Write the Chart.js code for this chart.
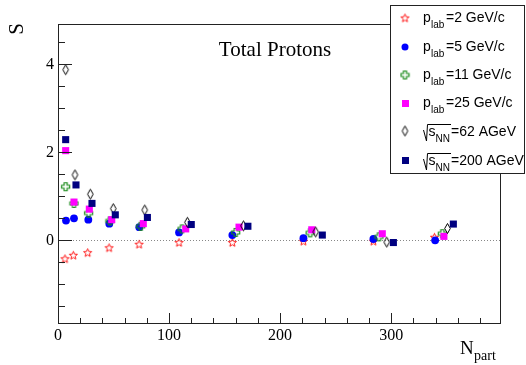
<!DOCTYPE html>
<html>
<head>
<meta charset="utf-8">
<script src="https://cdn.jsdelivr.net/npm/chart.js@4"></script>
<style>
html, body { margin: 0; padding: 0; background: #fff; }
</style>
</head>
<body>
<canvas id="chart" width="526" height="365"></canvas>
<script>
// N_part and S for each beam energy
const nPart2 = [6.3, 13.8, 26.7, 46, 73, 109, 157, 221, 284, 339];
const s2 = [-0.42, -0.34, -0.28, -0.17, -0.09, -0.05, -0.05, -0.02, -0.02, 0.07];
const nPart5 = [7.2, 14.4, 27.3, 46.2, 73.2, 109, 157, 221, 284, 339.6];
const s5 = [0.45, 0.50, 0.47, 0.38, 0.30, 0.18, 0.12, 0.05, 0.03, 0.00];
const nPart11 = [6.9, 14.4, 27.6, 46.8, 74.5, 111.7, 160, 227, 289, 346];
const s11 = [1.22, 0.84, 0.62, 0.44, 0.32, 0.26, 0.18, 0.17, 0.08, 0.15];
const nPart25 = [6.9, 14.4, 28.2, 48.4, 76.8, 115, 163, 228.5, 292, 347.5];
const s25 = [2.04, 0.87, 0.71, 0.47, 0.38, 0.26, 0.30, 0.24, 0.15, 0.09];
const nPart62 = [6.9, 15.3, 29.1, 49.8, 78.1, 116.5, 167, 232, 296, 350.7];
const s62 = [3.88, 1.49, 1.05, 0.72, 0.69, 0.41, 0.33, 0.19, -0.04, 0.27];
const nPart200 = [6.9, 16.2, 30.6, 51.6, 80.5, 120, 171, 238, 302, 356];
const s200 = [2.29, 1.26, 0.84, 0.58, 0.52, 0.36, 0.32, 0.12, -0.05, 0.37];

const xTicks = [0, 100, 200, 300];
const yTicks = [0, 2, 4];

function pts(xs, ys) {
    return xs.map((x, i) => ({ x: x, y: ys[i] }));
}

function starMarker(color) {
    let c = document.createElement("canvas");
    c.width = 11; c.height = 11;
    let g = c.getContext("2d");
    g.strokeStyle = color;
    g.lineWidth = 1;
    g.beginPath();
    for (let i = 0; i < 10; i++) {
        let r = i % 2 ? 1.9 : 4.3;
        let a = -Math.PI / 2 + i * Math.PI / 5;
        g.lineTo(5.5 + r * Math.cos(a), 5.8 + r * Math.sin(a));
    }
    g.closePath();
    g.stroke();
    return c;
}

function crossMarker(color) {
    let c = document.createElement("canvas");
    c.width = 11; c.height = 11;
    let g = c.getContext("2d");
    g.strokeStyle = color;
    g.lineWidth = 1.2;
    let a = 1.5, L = 4, o = 5.5;
    let p = [[-a,-L],[a,-L],[a,-a],[L,-a],[L,a],[a,a],[a,L],[-a,L],[-a,a],[-L,a],[-L,-a],[-a,-a]];
    g.beginPath();
    p.forEach(q => g.lineTo(o + q[0], o + q[1]));
    g.closePath();
    g.stroke();
    return c;
}

function diamondMarker(color) {
    let c = document.createElement("canvas");
    c.width = 9; c.height = 13;
    let g = c.getContext("2d");
    g.strokeStyle = color;
    g.lineWidth = 1;
    g.beginPath();
    g.moveTo(4.5, 1.5);
    g.lineTo(7.3, 6.5);
    g.lineTo(4.5, 11.5);
    g.lineTo(1.7, 6.5);
    g.closePath();
    g.stroke();
    return c;
}

const starImg = starMarker("#ff1a1a");
const crossImg = crossMarker("#1a8a1a");
const diamondImg = diamondMarker("#000000");

const serif = "'Liberation Serif', 'Times New Roman', serif";
const sans = "'Liberation Sans', Arial, sans-serif";

// frame, inside ticks, zero line, labels and legend
const decor = {
    id: "decor",
    beforeDatasetsDraw(chart) {
        let ctx = chart.ctx, a = chart.chartArea;
        let y0 = Math.round(chart.scales.y.getPixelForValue(0)) + 0.5;
        ctx.save();
        ctx.strokeStyle = "#888";
        ctx.lineWidth = 1;
        ctx.setLineDash([1, 2]);
        ctx.beginPath();
        ctx.moveTo(a.left, y0);
        ctx.lineTo(a.right, y0);
        ctx.stroke();
        ctx.restore();
    },
    afterDraw(chart) {
        let ctx = chart.ctx, a = chart.chartArea;
        let xs = chart.scales.x, ys = chart.scales.y;
        ctx.save();
        ctx.strokeStyle = "#222";
        ctx.lineWidth = 1;
        ctx.strokeRect(Math.round(a.left) + 0.5, Math.round(a.top) + 0.5,
            Math.round(a.right - a.left), Math.round(a.bottom - a.top));

        ctx.beginPath();
        for (let v = -1.5; v <= 4.6; v += 0.5) {
            let py = Math.round(ys.getPixelForValue(v)) + 0.5;
            let len = Math.abs(v % 2) < 0.01 ? 14 : 7;
            ctx.moveTo(a.left, py);
            ctx.lineTo(a.left + len, py);
        }
        for (let v = 0; v <= 390; v += 20) {
            let px = Math.round(xs.getPixelForValue(v)) + 0.5;
            let len = v % 100 === 0 ? 10 : 5;
            ctx.moveTo(px, a.bottom);
            ctx.lineTo(px, a.bottom - len);
        }
        ctx.stroke();

        ctx.fillStyle = "#000";
        ctx.font = "21px " + serif;
        ctx.textAlign = "center";
        ctx.textBaseline = "alphabetic";
        ctx.fillText("Total Protons", 275, 56);

        ctx.save();
        ctx.translate(17, 29);
        ctx.rotate(-Math.PI / 2);
        ctx.font = "21px " + serif;
        ctx.textBaseline = "middle";
        ctx.fillText("S", 0, 0);
        ctx.restore();

        ctx.textAlign = "left";
        ctx.font = "19px " + serif;
        ctx.fillText("N", 460, 354);
        ctx.font = "14px " + serif;
        ctx.fillText("part", 474, 360);

        // legend box
        ctx.fillStyle = "#fff";
        ctx.fillRect(390.5, 5.5, 134, 168);
        ctx.strokeStyle = "#222";
        ctx.strokeRect(390.5, 5.5, 134, 168);

        let rows = [18, 47, 75, 103, 131, 160];
        let mx = 405;
        ctx.drawImage(starImg, mx - 5.5, rows[0] - 5.5);
        ctx.fillStyle = "#0000ff";
        ctx.beginPath();
        ctx.arc(mx, rows[1], 3.5, 0, Math.PI * 2);
        ctx.fill();
        ctx.drawImage(crossImg, mx - 5.5, rows[2] - 5.5);
        ctx.fillStyle = "#ff00ff";
        ctx.fillRect(mx - 3, rows[3] - 3, 7, 7);
        ctx.drawImage(diamondImg, mx - 4.5, rows[4] - 6.5);
        ctx.fillStyle = "#000080";
        ctx.fillRect(mx - 3, rows[5] - 3, 7, 7);

        ctx.fillStyle = "#000";
        let plab = ["=2 GeV/c", "=5 GeV/c", "=11 GeV/c", "=25 GeV/c"];
        plab.forEach((t, i) => {
            let b = rows[i] + 4;
            ctx.font = "14px " + sans;
            ctx.fillText("p", 423, b);
            ctx.font = "10px " + sans;
            ctx.fillText("lab", 431, b + 6);
            ctx.font = "14px " + sans;
            ctx.fillText(t, 446, b);
        });
        let snn = ["=62 AGeV", "=200 AGeV"];
        snn.forEach((t, i) => {
            let r = rows[4 + i], b = r + 5;
            ctx.strokeStyle = "#000";
            ctx.lineWidth = 1;
            ctx.beginPath();
            ctx.moveTo(423.5, r - 1);
            ctx.lineTo(426.5, r + 10);
            ctx.lineTo(427.5, r - 6.5);
            ctx.lineTo(451, r - 6.5);
            ctx.stroke();
            ctx.font = "14px " + sans;
            ctx.fillText("s", 428.5, b);
            ctx.font = "10px " + sans;
            ctx.fillText("NN", 435.5, b + 6);
            ctx.font = "14px " + sans;
            ctx.fillText(t, 451, b);
        });
        ctx.restore();
    }
};

new Chart(document.getElementById("chart"), {
    type: "scatter",
    data: {
        datasets: [
            { label: "2", data: pts(nPart2, s2), pointStyle: starImg, order: 10 },
            { label: "5", data: pts(nPart5, s5), pointStyle: "circle", pointRadius: 3.9,
              backgroundColor: "#0000ff", borderColor: "#0000ff", borderWidth: 0, order: 9 },
            { label: "11", data: pts(nPart11, s11), pointStyle: crossImg, order: 8 },
            { label: "25", data: pts(nPart25, s25), pointStyle: "rect", pointRadius: 5,
              backgroundColor: "#ff00ff", borderColor: "#ff00ff", borderWidth: 0, order: 7 },
            { label: "62", data: pts(nPart62, s62), pointStyle: diamondImg, order: 6 },
            { label: "200", data: pts(nPart200, s200), pointStyle: "rect", pointRadius: 5,
              backgroundColor: "#000080", borderColor: "#000080", borderWidth: 0, order: 5 }
        ]
    },
    options: {
        responsive: false,
        animation: false,
        layout: { padding: { top: 24, right: 26, left: 0, bottom: 0 } },
        plugins: { legend: { display: false }, tooltip: { enabled: false } },
        scales: {
            x: {
                type: "linear",
                min: 0,
                max: 398,
                grid: { display: false, drawTicks: false },
                border: { display: false },
                afterBuildTicks: s => { s.ticks = xTicks.map(v => ({ value: v })); },
                afterFit: s => { s.height = 42; },
                ticks: { color: "#000", font: { family: serif, size: 16 }, padding: 3, maxRotation: 0 }
            },
            y: {
                min: -1.88,
                max: 4.92,
                grid: { display: false, drawTicks: false },
                border: { display: false },
                afterBuildTicks: s => { s.ticks = yTicks.map(v => ({ value: v })); },
                afterFit: s => { s.width = 58; },
                ticks: { color: "#000", font: { family: serif, size: 16 }, padding: 4 }
            }
        }
    },
    plugins: [decor]
});
</script>
</body>
</html>
